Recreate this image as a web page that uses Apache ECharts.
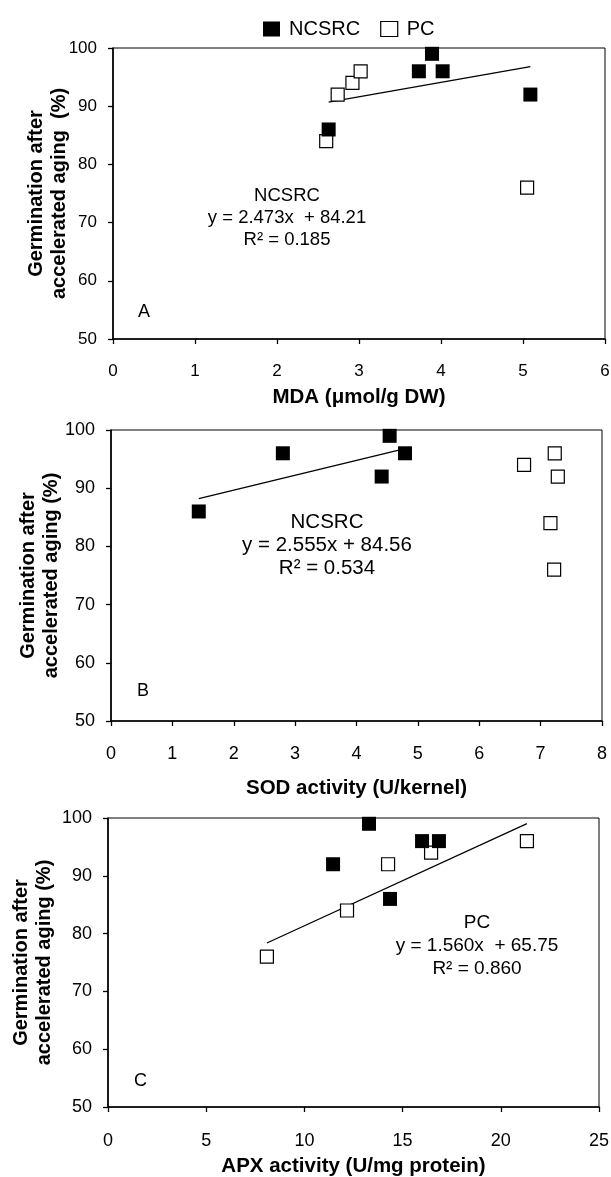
<!DOCTYPE html>
<html>
<head>
<meta charset="utf-8">
<script src="https://cdn.jsdelivr.net/npm/echarts@6/dist/echarts.min.js"></script>
<style>
  html, body { margin: 0; padding: 0; background: #fff; }
  #chart { width: 611px; height: 1177px; }
</style>
</head>
<body>
<div id="chart"></div>
<script>
// 発芽率と各指標の散布図（A: MDA, B: SOD, C: APX）

// A: MDA
const mdaNcsrcX = [2.63, 3.73, 3.89, 4.02, 5.09];
const mdaNcsrcY = [86, 96, 99, 96, 92];
const mdaPcX = [2.60, 2.74, 2.92, 3.02, 5.05];
const mdaPcY = [84, 92, 94, 96, 76];

// B: SOD
const sodNcsrcX = [1.43, 2.80, 4.54, 4.41, 4.79];
const sodNcsrcY = [86, 96, 99, 92, 96];
const sodPcX = [6.73, 7.23, 7.28, 7.16, 7.22];
const sodPcY = [94, 96, 92, 84, 76];

// C: APX
const apxNcsrcX = [13.29, 11.46, 15.99, 16.85, 14.36];
const apxNcsrcY = [99, 92, 96, 96, 86];
const apxPcX = [8.09, 12.17, 14.26, 16.45, 21.33];
const apxPcY = [76, 84, 92, 94, 96];

// 回帰式（図中の式）
const fitSlope = [2.473, 2.555, 1.560];
const fitIntercept = [84.21, 84.56, 65.75];

const xMax = [6, 8, 25];
const xInterval = [1, 1, 5];
const xNames = ['MDA (μmol/g DW)', 'SOD activity (U/kernel)', 'APX activity (U/mg protein)'];
const yName = ['Germination after\naccelerated aging  (%)', 'Germination after\naccelerated aging (%)', 'Germination after\naccelerated aging (%)'];
const yTicks = [50, 60, 70, 80, 90, 100];

const FONT = "'Liberation Sans', Arial, sans-serif";

const zip = (xs, ys) => xs.map((x, i) => [x, ys[i]]);
function fitLine(xs, k) {
  const lo = Math.min(...xs), hi = Math.max(...xs);
  return [lo, hi].map(x => [x, fitSlope[k] * x + fitIntercept[k]]);
}

const grids = [
  { left: 113, top: 48, width: 492, height: 291 },
  { left: 111, top: 430, width: 491, height: 291 },
  { left: 108, top: 818, width: 491, height: 289 }
];
const labelSize = [17, 18, 18];
const xLabelMargin = [24, 24, 25];
const xNameGap = [48, 57, 49];
const yNameGap = [42, 48, 52];

const panels = [
  { nc: zip(mdaNcsrcX, mdaNcsrcY), pc: zip(mdaPcX, mdaPcY), fit: fitLine(mdaNcsrcX, 0) },
  { nc: zip(sodNcsrcX, sodNcsrcY), pc: zip(sodPcX, sodPcY), fit: fitLine(sodNcsrcX, 1) },
  { nc: zip(apxNcsrcX, apxNcsrcY), pc: zip(apxPcX, apxPcY), fit: fitLine(apxPcX, 2) }
];

const chart = echarts.init(document.getElementById('chart'));

const series = [];
panels.forEach((p, i) => {
  series.push({
    name: 'fit' + i, type: 'line', xAxisIndex: i, yAxisIndex: i,
    data: p.fit, symbol: 'none', silent: true, z: 1,
    lineStyle: { color: '#000', width: 1.3 }
  });
  series.push({
    name: 'PC', type: 'scatter', xAxisIndex: i, yAxisIndex: i,
    data: p.pc, symbol: 'rect', symbolSize: 13, z: 2,
    itemStyle: { color: '#fff', borderColor: '#000', borderWidth: 1.2, opacity: 1 }
  });
  series.push({
    name: 'NCSRC', type: 'scatter', xAxisIndex: i, yAxisIndex: i,
    data: p.nc, symbol: 'rect', symbolSize: 14, z: 3,
    itemStyle: { color: '#000', opacity: 1 }
  });
});

const option = {
  animation: false,
  backgroundColor: '#fff',
  textStyle: { fontFamily: FONT, color: '#000' },
  legend: {
    data: [
      { name: 'NCSRC', icon: 'rect', itemStyle: { color: '#000' } },
      { name: 'PC', icon: 'rect', itemStyle: { color: '#fff', borderColor: '#000', borderWidth: 1.2 } }
    ],
    left: 258, top: 14,
    itemWidth: 17, itemHeight: 15, itemGap: 20,
    textStyle: { fontSize: 20, fontFamily: FONT, color: '#000', padding: [0, 0, 0, 4] },
    selectedMode: false
  },
  grid: grids.map(g => Object.assign({
    show: true, borderColor: '#000', borderWidth: 1, backgroundColor: 'transparent',
    containLabel: false, outerBoundsMode: 'none'
  }, g)),
  xAxis: grids.map((g, i) => ({
    type: 'value', gridIndex: i, min: 0, max: xMax[i], interval: xInterval[i],
    name: xNames[i], nameLocation: 'middle', nameGap: xNameGap[i], nameMoveOverlap: false,
    nameTextStyle: { fontSize: 20.5, fontWeight: 'bold', fontFamily: FONT, color: '#000' },
    axisLine: { show: true, onZero: false, lineStyle: { color: '#000', width: 1.6 } },
    axisTick: { show: true, length: 5, lineStyle: { color: '#000', width: 1.3 } },
    axisLabel: { fontSize: labelSize[i], margin: xLabelMargin[i], color: '#000', fontFamily: FONT },
    splitLine: { show: false }
  })),
  yAxis: grids.map((g, i) => ({
    type: 'value', gridIndex: i, min: yTicks[0], max: yTicks[yTicks.length - 1], interval: 10,
    name: yName[i], nameLocation: 'middle', nameGap: yNameGap[i], nameRotate: 90, nameMoveOverlap: false,
    nameTextStyle: { fontSize: 20, fontWeight: 'bold', fontFamily: FONT, color: '#000', lineHeight: 23, align: 'center' },
    axisLine: { show: true, onZero: false, lineStyle: { color: '#000', width: 1.6 } },
    axisTick: { show: true, length: 5, lineStyle: { color: '#000', width: 1.3 } },
    axisLabel: { fontSize: labelSize[i], margin: 16, color: '#000', fontFamily: FONT },
    splitLine: { show: false }
  })),
  graphic: [
    { type: 'text', x: 287, y: 185, style: { text: 'NCSRC\ny = 2.473x  + 84.21\nR² = 0.185', align: 'center', verticalAlign: 'top', font: '18.5px ' + FONT, lineHeight: 22, fill: '#000' } },
    { type: 'text', x: 138, y: 303, style: { text: 'A', font: '18px ' + FONT, fill: '#000' } },
    { type: 'text', x: 327, y: 511, style: { text: 'NCSRC\ny = 2.555x + 84.56\nR² = 0.534', align: 'center', verticalAlign: 'top', font: '20.5px ' + FONT, lineHeight: 23, fill: '#000' } },
    { type: 'text', x: 137, y: 682, style: { text: 'B', font: '18px ' + FONT, fill: '#000' } },
    { type: 'text', x: 477, y: 911, style: { text: 'PC\ny = 1.560x  + 65.75\nR² = 0.860', align: 'center', verticalAlign: 'top', font: '19px ' + FONT, lineHeight: 23, fill: '#000' } },
    { type: 'text', x: 134, y: 1072, style: { text: 'C', font: '18px ' + FONT, fill: '#000' } }
  ],
  series: series
};

chart.setOption(option);
</script>
</body>
</html>
